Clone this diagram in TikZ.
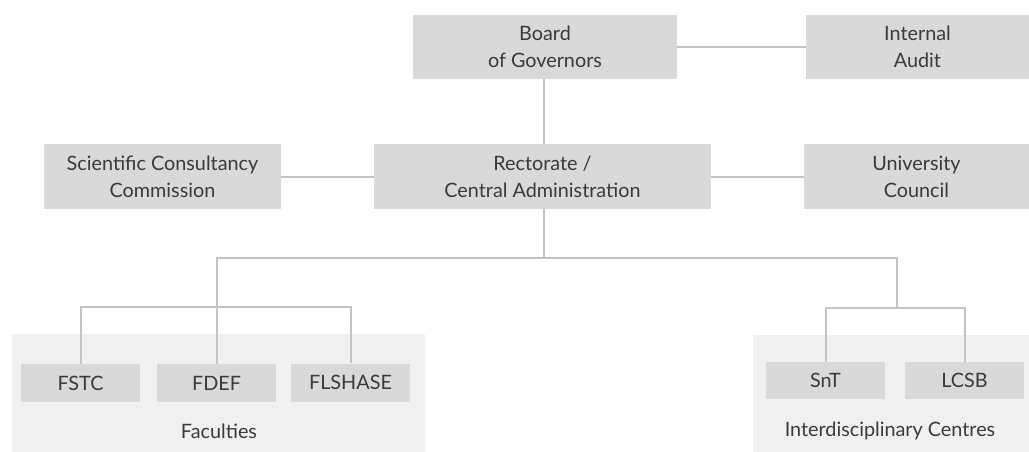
\documentclass[tikz,border=0pt]{standalone}
\usepackage{fontspec}
\setmainfont{Lato}
\definecolor{boxfill}{HTML}{D9D9D9}
\definecolor{grpfill}{HTML}{F0F0F0}
\definecolor{linecol}{HTML}{C3C3C3}
\definecolor{txtcol}{HTML}{3A3A3A}
\begin{document}
\begin{tikzpicture}[x=1pt,y=-1pt,
  orgbox/.style={rectangle, fill=boxfill, inner sep=0pt, align=center, text=txtcol,
    font=\fontsize{19.8}{27}\selectfont},
  grpbox/.style={rectangle, fill=grpfill, inner sep=0pt},
  grplabel/.style={text=txtcol, inner sep=0pt, font=\fontsize{19.8}{27}\selectfont},
  conn/.style={draw=linecol, line width=2pt}]
\useasboundingbox (0,0) rectangle (1029,452);
% group backgrounds
\node[grpbox, minimum width=413pt, minimum height=118pt] (facbg) at (218.5,393) {};
\node[grpbox, minimum width=276pt, minimum height=117pt] (cenbg) at (891,393.5) {};
% boxes
\node[orgbox, minimum width=264pt, minimum height=64pt] (board) at (545,47) {Board\\of Governors};
\node[orgbox, minimum width=223pt, minimum height=64pt] (audit) at (917.5,47) {Internal\\Audit};
\node[orgbox, minimum width=237pt, minimum height=65pt] (sci) at (162.5,176.5) {Scientific Consultancy\\Commission};
\node[orgbox, minimum width=337pt, minimum height=65pt] (rect) at (542.5,176.5) {Rectorate /\\Central Administration};
\node[orgbox, minimum width=225pt, minimum height=65pt] (univ) at (916.5,176.5) {University\\Council};
\node[orgbox, minimum width=119pt, minimum height=38pt] (fstc) at (80.5,383) {FSTC};
\node[orgbox, minimum width=119pt, minimum height=38pt] (fdef) at (216.5,383) {FDEF};
\node[orgbox, minimum width=119pt, minimum height=38pt] (flshase) at (350.5,382.5) {FLSHASE};
\node[orgbox, minimum width=119pt, minimum height=37pt] (snt) at (825.5,380.5) {SnT};
\node[orgbox, minimum width=119pt, minimum height=37pt] (lcsb) at (964.5,380.5) {LCSB};
% group labels
\node[grplabel] (faclabel) at (219,431) {Faculties};
\node[grplabel] (cenlabel) at (890,431) {Interdisciplinary Centres};
% junction coordinates
\coordinate (j1) at (543.5,258);
\coordinate (fj) at (216.5,307);
\coordinate (cj) at (897,308);
% connectors
\draw[conn] (board.east) -- (audit.west);
\draw[conn] (sci.east) -- (rect.west);
\draw[conn] (rect.east) -- (univ.west);
\draw[conn] (j1 |- board.south) -- (j1 |- rect.north);
\draw[conn] (j1 |- rect.south) -- (j1);
\draw[conn] (fdef.north) |- (j1);
\draw[conn] (j1) -| (cj);
\draw[conn] (fstc.north) |- (fj) -| (flshase.north);
\draw[conn] (snt.north) |- (cj) -| (lcsb.north);
\end{tikzpicture}
\end{document}
